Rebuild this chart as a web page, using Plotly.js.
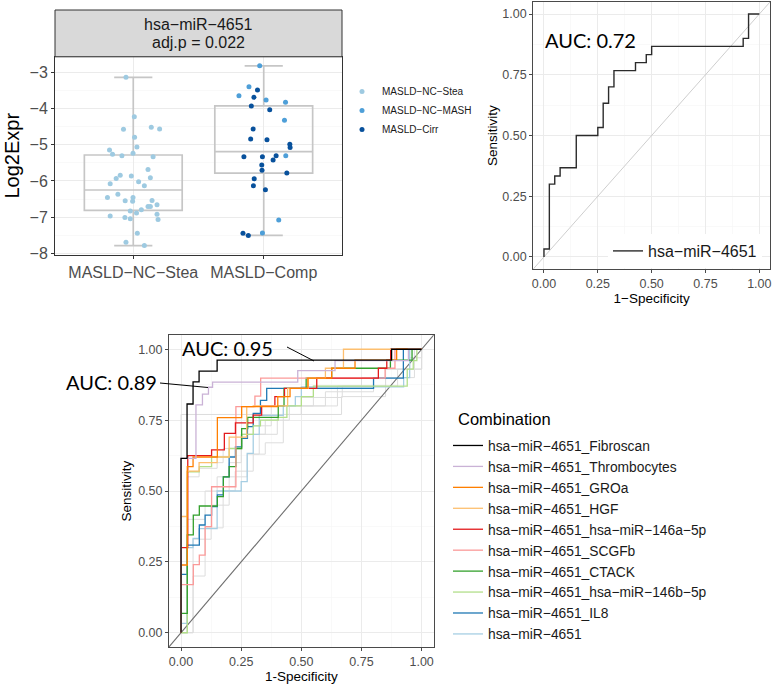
<!DOCTYPE html>
<html>
<head>
<meta charset="utf-8">
<script src="https://cdn.plot.ly/plotly-3.0.1.min.js"></script>
<style>
  html, body { margin: 0; padding: 0; background: #ffffff; }
  #chart { width: 773px; height: 685px; }
</style>
</head>
<body>
<div id="chart"></div>
<script>
// ---------- hsa-miR-4651 expression (log2) per patient ----------
const groupLabels = ['MASLD−NC−Stea', 'MASLD−Comp'];
const subgroupNames = ['MASLD−NC−Stea', 'MASLD−NC−MASH', 'MASLD−Cirr'];

const steaExpr = [-3.13, -4.22, -4.57, -4.79, -4.51, -4.56, -5.06, -5.14, -5.26, -5.30,
                  -5.23, -5.33, -5.68, -5.84, -5.93, -5.86, -5.91, -6.08, -6.02, -6.13,
                  -6.37, -6.46, -6.46, -6.55, -6.56, -6.54, -6.71, -6.71, -6.66, -6.83,
                  -6.89, -6.80, -6.97, -7.01, -7.05, -6.92, -7.07, -7.45, -7.70, -7.79];
const steaJitter = [-0.056, 0.008, -0.075, 0.010, 0.138, 0.202, 0.028, -0.182, -0.159, -0.087,
                    -0.002, 0.152, 0.113, -0.100, -0.131, -0.015, 0.131, -0.177, 0.041, 0.085,
                    -0.118, -0.198, -0.002, -0.062, -0.005, 0.144, 0.113, 0.131, 0.182, -0.023,
                    0.025, 0.062, -0.177, -0.064, -0.023, 0.182, 0.190, 0.031, -0.056, 0.085];

const mashExpr = [-2.81, -3.39, -3.64, -3.76, -3.82, -4.32, -5.30, -7.08, -7.44];
const mashJitter = [-0.031, -0.113, -0.190, 0.018, 0.167, 0.159, 0.169, 0.115, -0.010];

const cirrExpr = [-3.48, -3.68, -3.92, -4.03, -4.56, -4.84, -4.86, -4.98, -5.07, -5.33,
                  -5.33, -5.30, -5.42, -5.56, -5.70, -5.78, -5.94, -6.13, -6.24, -7.45, -7.51];
const cirrJitter = [-0.048, -0.075, -0.095, 0.046, -0.081, -0.100, 0.025, 0.200, 0.202, -0.152,
                    -0.010, 0.095, 0.072, -0.015, -0.013, 0.177, -0.073, -0.079, 0.013, -0.159, -0.118];

const stripTitle = 'hsa−miR−4651';
const stripSubtitle = 'adj.p = 0.022';

// ---------- ROC curves (1-specificity, sensitivity at each step) ----------
const mir4651Fpr = [0, 0, 0.025, 0.05, 0.075, 0.15, 0.25, 0.275, 0.30, 0.325, 0.425, 0.475, 0.50, 0.925, 0.95, 1];
const mir4651Tpr = [0, 0.033, 0.30, 0.333, 0.367, 0.50, 0.533, 0.633, 0.70, 0.767, 0.80, 0.833, 0.867, 0.90, 1, 1];
const mir4651Auc = 'AUC: 0.72';

const fibroscanFpr = [0, 0, 0.025, 0.05, 0.075, 0.15, 0.875, 1];
const fibroscanTpr = [0, 0.615, 0.807, 0.885, 0.923, 0.962, 1, 1];
const fibroscanAuc = 'AUC: 0.95';

const thrombocytesFpr = [0, 0, 0.062, 0.089, 0.114, 0.131, 0.485, 0.64, 0.945, 1];
const thrombocytesTpr = [0, 0.615, 0.804, 0.842, 0.866, 0.884, 0.925, 0.96, 1, 1];
const thrombocytesAuc = 'AUC: 0.89';

const groaFpr = [0, 0, 0.026, 0.05, 0.151, 0.252, 0.402, 0.453, 0.527, 0.626, 0.723, 0.896, 1];
const groaTpr = [0, 0.239, 0.586, 0.62, 0.759, 0.798, 0.833, 0.862, 0.898, 0.933, 0.962, 1, 1];

const hgfFpr = [0, 0, 0.026, 0.075, 0.15, 0.20, 0.273, 0.30, 0.443, 0.529, 0.60, 0.675, 1];
const hgfTpr = [0, 0.41, 0.57, 0.60, 0.62, 0.69, 0.798, 0.80, 0.862, 0.898, 0.933, 1, 1];

const mir146aFpr = [0, 0, 0.028, 0.127, 0.18, 0.226, 0.30, 0.335, 0.39, 0.43, 0.564, 0.82, 0.855, 0.871, 1];
const mir146aTpr = [0, 0.30, 0.625, 0.645, 0.703, 0.74, 0.768, 0.80, 0.833, 0.862, 0.898, 0.933, 0.962, 1, 1];

const scgfbFpr = [0, 0, 0.051, 0.076, 0.10, 0.127, 0.228, 0.307, 0.331, 0.848, 0.889, 1];
const scgfbTpr = [0, 0.17, 0.24, 0.274, 0.374, 0.515, 0.798, 0.835, 0.898, 0.933, 1, 1];

const ctackFpr = [0, 0, 0.026, 0.051, 0.076, 0.151, 0.176, 0.20, 0.228, 0.252, 0.277, 0.404, 0.428, 0.52, 0.626, 0.87, 0.96, 1];
const ctackTpr = [0, 0.068, 0.345, 0.415, 0.447, 0.48, 0.55, 0.586, 0.65, 0.72, 0.76, 0.80, 0.862, 0.898, 0.933, 0.962, 1, 1];

const mir146bFpr = [0, 0.026, 0.076, 0.127, 0.20, 0.252, 0.30, 0.33, 0.404, 0.44, 0.50, 0.55, 0.94, 0.965, 0.98, 1];
const mir146bTpr = [0, 0.568, 0.586, 0.62, 0.65, 0.70, 0.73, 0.75, 0.76, 0.80, 0.833, 0.87, 0.93, 0.96, 1, 1];

const il8Fpr = [0, 0, 0.026, 0.076, 0.10, 0.127, 0.151, 0.176, 0.20, 0.226, 0.252, 0.276, 0.30, 0.33, 0.356, 0.80, 0.924, 1];
const il8Tpr = [0, 0.206, 0.309, 0.38, 0.415, 0.445, 0.486, 0.55, 0.62, 0.656, 0.686, 0.727, 0.774, 0.82, 0.862, 0.898, 1, 1];

// other combinations, drawn as a faint background
const otherAFpr = [0, 0, 0.667, 0.85, 0.95, 1];
const otherATpr = [0, 0.77, 0.833, 0.93, 1, 1];
const otherBFpr = [0, 0.025, 0.10, 0.15, 0.20, 0.25, 0.35, 0.45, 0.60, 0.80, 0.97, 1];
const otherBTpr = [0, 0.40, 0.50, 0.55, 0.60, 0.70, 0.75, 0.80, 0.85, 0.90, 1, 1];
const otherCFpr = [0, 0.05, 0.125, 0.20, 0.275, 0.325, 0.40, 0.50, 0.67, 0.90, 1];
const otherCTpr = [0, 0.33, 0.45, 0.55, 0.63, 0.70, 0.77, 0.83, 0.87, 0.93, 1];
const otherDFpr = [0, 0.025, 0.075, 0.15, 0.175, 0.25, 0.30, 0.375, 0.55, 0.75, 0.95, 1];
const otherDTpr = [0, 0.55, 0.58, 0.60, 0.65, 0.70, 0.73, 0.80, 0.87, 0.90, 0.97, 1];
const otherEFpr = [0, 0.05, 0.10, 0.175, 0.225, 0.30, 0.35, 0.425, 0.50, 0.65, 0.85, 1];
const otherETpr = [0, 0.20, 0.37, 0.50, 0.57, 0.63, 0.67, 0.77, 0.80, 0.87, 0.93, 1];

const combinationTitle = 'Combination';
const combinationNames = [
  'hsa−miR−4651_Fibroscan', 'hsa−miR−4651_Thrombocytes', 'hsa−miR−4651_GROa',
  'hsa−miR−4651_HGF', 'hsa−miR−4651_hsa−miR−146a−5p', 'hsa−miR−4651_SCGFb',
  'hsa−miR−4651_CTACK', 'hsa−miR−4651_hsa−miR−146b−5p', 'hsa−miR−4651_IL8', 'hsa−miR−4651'
];
const rocTicks = [0, 0.25, 0.5, 0.75, 1];
const rocRange = [-0.05, 1.05];

// ---------- styling ----------
const W = 773, H = 685;
const px = v => v / W;            // horizontal pixel -> paper
const py = v => 1 - v / H;        // vertical pixel -> paper
const FONT = 'Liberation Sans, Arial, sans-serif';
const AUC_FONT = 'Lato, Open Sans, sans-serif';
const pointColors = ['#9ECAE1', '#4E9FD8', '#08519C'];
const comboColors = ['#000000', '#CAB2D6', '#FF7F00', '#FDBF6F', '#E31A1C',
                     '#FB9A99', '#33A02C', '#B2DF8A', '#1F78B4', '#A6CEE3'];

const comboFpr = [fibroscanFpr, thrombocytesFpr, groaFpr, hgfFpr, mir146aFpr,
                  scgfbFpr, ctackFpr, mir146bFpr, il8Fpr, mir4651Fpr];
const comboTpr = [fibroscanTpr, thrombocytesTpr, groaTpr, hgfTpr, mir146aTpr,
                  scgfbTpr, ctackTpr, mir146bTpr, il8Tpr, mir4651Tpr];

const traces = [];

// boxes (statistics computed by plotly from the values)
traces.push({
  type: 'box', y: steaExpr, x0: 1, width: 0.75, whiskerwidth: 0.39,
  boxpoints: false, quartilemethod: 'linear',
  line: { color: '#C6C6C6', width: 1.7 }, fillcolor: 'rgba(255,255,255,0)',
  xaxis: 'x', yaxis: 'y', showlegend: false, hoverinfo: 'skip'
});
traces.push({
  type: 'box', y: mashExpr.concat(cirrExpr), x0: 2, width: 0.75, whiskerwidth: 0.39,
  boxpoints: false, quartilemethod: 'linear',
  line: { color: '#C6C6C6', width: 1.7 }, fillcolor: 'rgba(255,255,255,0)',
  xaxis: 'x', yaxis: 'y', showlegend: false, hoverinfo: 'skip'
});

// jittered points, coloured by subgroup
const pointSets = [
  { vals: steaExpr, jit: steaJitter, pos: 1 },
  { vals: mashExpr, jit: mashJitter, pos: 2 },
  { vals: cirrExpr, jit: cirrJitter, pos: 2 }
];
pointSets.forEach((s, i) => {
  traces.push({
    type: 'scatter', mode: 'markers',
    x: s.jit.map(j => s.pos + j), y: s.vals,
    marker: { color: pointColors[i], size: 5 },
    name: subgroupNames[i], legend: 'legend',
    xaxis: 'x', yaxis: 'y', hoverinfo: 'skip'
  });
});

// top-right ROC
traces.push({
  type: 'scatter', mode: 'lines', x: rocRange, y: rocRange,
  line: { color: '#C8C8C8', width: 0.9 }, xaxis: 'x2', yaxis: 'y2',
  showlegend: false, hoverinfo: 'skip'
});
traces.push({
  type: 'scatter', mode: 'lines', x: mir4651Fpr, y: mir4651Tpr,
  line: { color: '#2B2B2B', width: 1.4, shape: 'hv' },
  name: 'hsa−miR−4651', legend: 'legend2',
  xaxis: 'x2', yaxis: 'y2', hoverinfo: 'skip'
});

// bottom ROC: faint background combinations
[[otherAFpr, otherATpr], [otherBFpr, otherBTpr], [otherCFpr, otherCTpr],
 [otherDFpr, otherDTpr], [otherEFpr, otherETpr]].forEach(c => {
  traces.push({
    type: 'scatter', mode: 'lines', x: c[0], y: c[1],
    line: { color: '#DDDDDD', width: 1, shape: 'hv' },
    xaxis: 'x3', yaxis: 'y3', showlegend: false, hoverinfo: 'skip'
  });
});
traces.push({
  type: 'scatter', mode: 'lines', x: rocRange, y: rocRange,
  line: { color: '#6E6E6E', width: 1.1 }, xaxis: 'x3', yaxis: 'y3',
  showlegend: false, hoverinfo: 'skip'
});
// highlighted combinations, last-listed drawn first so Fibroscan sits on top
for (let i = combinationNames.length - 1; i >= 0; i--) {
  traces.push({
    type: 'scatter', mode: 'lines', x: comboFpr[i], y: comboTpr[i],
    line: { color: comboColors[i], width: 1.3, shape: 'hv' },
    name: combinationNames[i], legend: 'legend3',
    xaxis: 'x3', yaxis: 'y3', hoverinfo: 'skip'
  });
}

const gridMajor = '#EBEBEB', gridMinor = '#F5F5F5';
const rocAxis = (domain, anchor, title, extra) => Object.assign({
  domain: domain, anchor: anchor, range: rocRange,
  tickvals: rocTicks, tickformat: '.2f',
  showgrid: true, gridcolor: gridMajor, gridwidth: 1,
  minor: { dtick: 0.125, tick0: 0, showgrid: true, gridcolor: gridMinor, gridwidth: 0.6 },
  zeroline: false, showline: true, mirror: true, linecolor: '#4A4A4A', linewidth: 1,
  ticks: 'outside', ticklen: 3, tickcolor: '#4A4A4A',
  tickfont: { family: FONT, size: 12.5, color: '#4D4D4D' },
  title: { text: title, font: { family: FONT, size: 13.5, color: '#000000' }, standoff: 3 }
}, extra || {});

const layout = {
  width: W, height: H,
  margin: { l: 0, r: 0, t: 0, b: 0 },
  paper_bgcolor: '#ffffff', plot_bgcolor: '#ffffff',
  font: { family: FONT, color: '#1A1A1A' },
  xaxis: {
    domain: [px(55), px(342)], anchor: 'y', range: [0.4, 2.6],
    tickvals: [1, 2], ticktext: groupLabels,
    showgrid: true, gridcolor: gridMajor, zeroline: false,
    showline: true, mirror: true, linecolor: '#333333', linewidth: 1,
    ticks: 'outside', ticklen: 3, tickcolor: '#333333',
    tickfont: { family: FONT, size: 16, color: '#4D4D4D' }
  },
  yaxis: {
    domain: [py(254.6), py(56.8)], anchor: 'x', range: [-8.04, -2.56],
    dtick: 1, tick0: -8,
    showgrid: true, gridcolor: gridMajor, zeroline: false,
    minor: { dtick: 0.5, tick0: -8, showgrid: true, gridcolor: gridMinor, gridwidth: 0.6 },
    showline: true, mirror: true, linecolor: '#333333', linewidth: 1,
    ticks: 'outside', ticklen: 3, tickcolor: '#333333',
    tickfont: { family: FONT, size: 16, color: '#4D4D4D' },
    title: { text: 'Log2Expr', font: { family: FONT, size: 20, color: '#000000' }, standoff: 4 }
  },
  xaxis2: rocAxis([px(533.2), px(770.1)], 'y2', '1−Specificity'),
  yaxis2: rocAxis([py(269.1), py(1.9)], 'x2', 'Sensitivity', { title: { text: 'Sensitivity', font: { family: FONT, size: 13.5, color: '#000000' }, standoff: 1 } }),
  xaxis3: rocAxis([px(169), px(433.7)], 'y3', '1-Specificity'),
  yaxis3: rocAxis([py(646.9), py(335.1)], 'x3', 'Sensitivity'),
  legend: {
    x: px(342), y: py(77), xanchor: 'left', yanchor: 'top',
    bgcolor: 'rgba(255,255,255,0)', borderwidth: 0,
    font: { family: FONT, size: 10, color: '#1A1A1A' }
  },
  legend2: {
    x: px(608), y: py(251), xanchor: 'left', yanchor: 'middle',
    bgcolor: '#ffffff', borderwidth: 0,
    font: { family: FONT, size: 16, color: '#1A1A1A' }
  },
  legend3: {
    x: px(448), y: py(430), xanchor: 'left', yanchor: 'top',
    bgcolor: 'rgba(255,255,255,0)', borderwidth: 0, traceorder: 'reversed',
    font: { family: FONT, size: 13.8, color: '#1A1A1A' }
  },
  shapes: [
    // facet strip above the box plot
    { type: 'rect', xref: 'paper', yref: 'paper', x0: px(55), x1: px(342), y0: py(56.8), y1: py(10),
      fillcolor: '#D9D9D9', line: { color: '#333333', width: 1 } },
    // pointers from AUC labels to their curves
    { type: 'line', xref: 'paper', yref: 'paper', x0: px(287), y0: py(347), x1: px(314), y1: py(361),
      line: { color: '#000000', width: 1 } },
    { type: 'line', xref: 'paper', yref: 'paper', x0: px(160), y0: py(383), x1: px(208), y1: py(387.5),
      line: { color: '#000000', width: 1 } }
  ],
  annotations: [
    { xref: 'paper', yref: 'paper', x: px(198.5), y: py(25), text: stripTitle, showarrow: false,
      xanchor: 'center', yanchor: 'middle', font: { family: FONT, size: 16, color: '#1A1A1A' } },
    { xref: 'paper', yref: 'paper', x: px(198.5), y: py(43), text: stripSubtitle, showarrow: false,
      xanchor: 'center', yanchor: 'middle', font: { family: FONT, size: 16, color: '#1A1A1A' } },
    { xref: 'paper', yref: 'paper', x: px(456), y: py(419), text: combinationTitle, showarrow: false,
      xanchor: 'left', yanchor: 'middle', font: { family: FONT, size: 16.5, color: '#000000' } },
    { xref: 'paper', yref: 'paper', x: px(590.5), y: py(40), text: mir4651Auc, showarrow: false,
      xanchor: 'center', yanchor: 'middle', font: { family: AUC_FONT, size: 20, color: '#000000' } },
    { xref: 'paper', yref: 'paper', x: px(227.5), y: py(348), text: fibroscanAuc, showarrow: false,
      xanchor: 'center', yanchor: 'middle', font: { family: AUC_FONT, size: 20, color: '#000000' } },
    { xref: 'paper', yref: 'paper', x: px(112), y: py(381.5), text: thrombocytesAuc, showarrow: false,
      xanchor: 'center', yanchor: 'middle', font: { family: AUC_FONT, size: 20, color: '#000000' } }
  ]
};

Plotly.newPlot('chart', traces, layout, { displayModeBar: false, staticPlot: true });
</script>
</body>
</html>
